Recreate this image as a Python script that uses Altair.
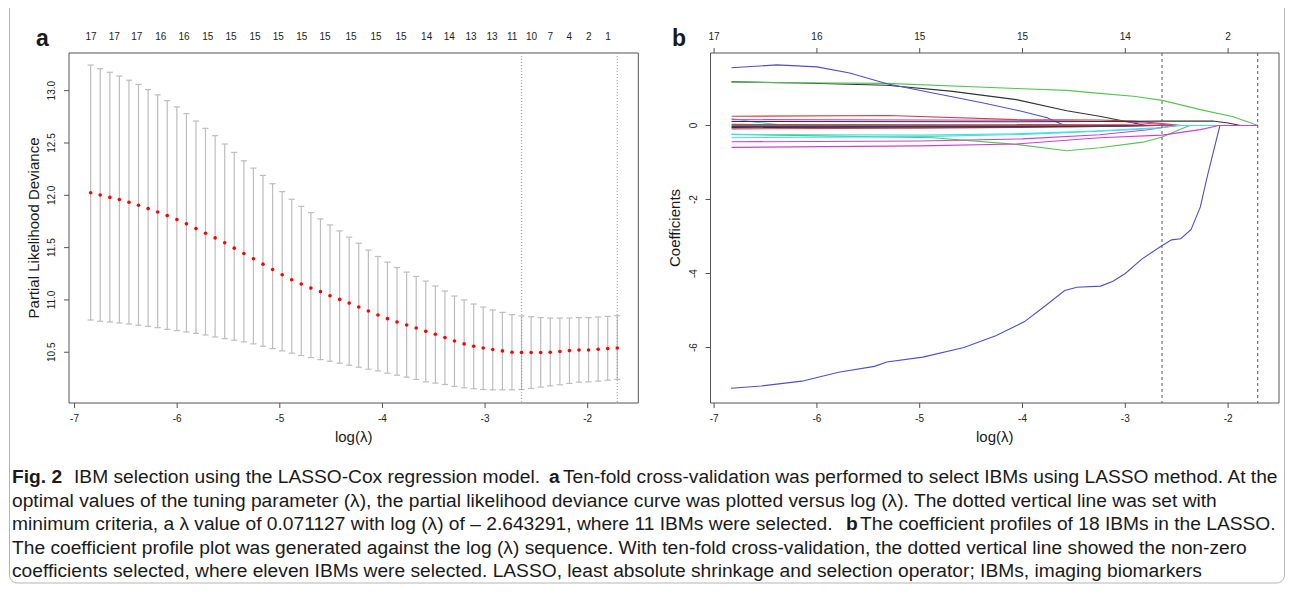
import altair as alt
import pandas as pd

FONT = "Liberation Sans"

# ---------------- Panel a: ten-fold CV curve ----------------
log_lambda = [-6.843, -6.750, -6.656, -6.563, -6.470, -6.377, -6.283, -6.190, -6.097, -6.003,
              -5.910, -5.817, -5.724, -5.630, -5.537, -5.444, -5.350, -5.257, -5.164, -5.070,
              -4.977, -4.884, -4.791, -4.697, -4.604, -4.511, -4.417, -4.324, -4.231, -4.137,
              -4.044, -3.951, -3.858, -3.764, -3.671, -3.578, -3.484, -3.391, -3.298, -3.204,
              -3.111, -3.018, -2.925, -2.831, -2.738, -2.645, -2.551, -2.458, -2.365, -2.271,
              -2.178, -2.085, -1.992, -1.898, -1.805, -1.712]
cv_mean = [12.025, 12.003, 11.980, 11.959, 11.933, 11.905, 11.873, 11.841, 11.806, 11.768,
           11.727, 11.682, 11.638, 11.593, 11.546, 11.495, 11.444, 11.393, 11.342, 11.291,
           11.241, 11.193, 11.152, 11.113, 11.079, 11.040, 11.005, 10.970, 10.932, 10.894,
           10.856, 10.821, 10.789, 10.761, 10.732, 10.700, 10.672, 10.640, 10.608, 10.580,
           10.557, 10.541, 10.526, 10.513, 10.500, 10.497, 10.497, 10.497, 10.500, 10.507,
           10.516, 10.522, 10.522, 10.529, 10.535, 10.541]
cv_upper = [13.245, 13.210, 13.176, 13.140, 13.100, 13.060, 13.010, 12.960, 12.905, 12.845,
            12.780, 12.710, 12.640, 12.570, 12.490, 12.410, 12.330, 12.260, 12.190, 12.111,
            12.035, 11.962, 11.895, 11.835, 11.774, 11.717, 11.660, 11.600, 11.542, 11.476,
            11.415, 11.361, 11.310, 11.266, 11.225, 11.180, 11.133, 11.085, 11.037, 11.000,
            10.961, 10.932, 10.904, 10.881, 10.859, 10.847, 10.840, 10.831, 10.827, 10.827,
            10.827, 10.831, 10.831, 10.837, 10.843, 10.850]
cv_lower = [10.808, 10.796, 10.789, 10.780, 10.770, 10.758, 10.748, 10.735, 10.719, 10.707,
            10.694, 10.681, 10.665, 10.646, 10.630, 10.615, 10.599, 10.580, 10.557, 10.535,
            10.513, 10.491, 10.468, 10.449, 10.430, 10.414, 10.395, 10.376, 10.357, 10.338,
            10.322, 10.300, 10.281, 10.262, 10.240, 10.217, 10.205, 10.192, 10.173, 10.160,
            10.151, 10.144, 10.141, 10.141, 10.141, 10.144, 10.154, 10.167, 10.179, 10.189,
            10.202, 10.214, 10.217, 10.224, 10.233, 10.240]
log_lambda_min = -2.643
log_lambda_1se = -1.712
top_a_pos = [-6.839, -6.612, -6.394, -6.160, -5.933, -5.702, -5.475, -5.241, -5.014, -4.786,
             -4.559, -4.306, -4.063, -3.819, -3.569, -3.348, -3.137, -2.932, -2.737, -2.548,
             -2.364, -2.179, -1.990, -1.802]
top_a_lab = ["17", "17", "17", "16", "16", "15", "15", "15", "15", "15", "15", "15", "15", "15",
             "14", "14", "13", "13", "11", "10", "7", "4", "2", "1"]
x_ticks = [-7, -6, -5, -4, -3, -2]
x_tick_labels = ["-7", "-6", "-5", "-4", "-3", "-2"]
ya_ticks = [10.5, 11.0, 11.5, 12.0, 12.5, 13.0]
ya_tick_labels = ["10.5", "11.0", "11.5", "12.0", "12.5", "13.0"]

# ---------------- Panel b: coefficient paths ----------------
top_b_pos = [-7, -6, -5, -4, -3, -2]
top_b_lab = ["17", "16", "15", "15", "14", "2"]
yb_ticks = [-6, -4, -2, 0]
yb_tick_labels = ["-6", "-4", "-2", "0"]

black_top_x = [-6.83, -6.16, -5.32, -4.70, -4.06, -3.57, -3.25, -2.92, -2.80, -1.71]
black_top_c = [1.18, 1.15, 1.09, 0.93, 0.70, 0.40, 0.25, 0.07, 0.0, 0.0]
red_top_x = [-6.83, -5.30, -4.06, -3.25, -2.92, -2.64, -2.45, -1.71]
red_top_c = [0.25, 0.27, 0.16, 0.15, 0.12, 0.05, 0.0, 0.0]
green_top_x = [-6.83, -5.32, -4.06, -3.57, -3.25, -2.92, -2.64, -2.27, -1.95, -1.71]
green_top_c = [1.17, 1.14, 1.00, 0.95, 0.87, 0.79, 0.68, 0.43, 0.235, 0.0]
blue_top_x = [-6.83, -6.60, -6.39, -6.00, -5.68, -5.32, -4.87, -4.38, -4.02, -3.76, -3.63, -3.57, -1.71]
blue_top_c = [1.56, 1.60, 1.64, 1.585, 1.42, 1.13, 0.88, 0.61, 0.39, 0.21, 0.05, 0.0, 0.0]
cyan_top_x = [-6.83, -6.60, -6.35, -5.00, -2.80, -1.71]
cyan_top_c = [0.19, 0.09, 0.02, -0.01, 0.0, 0.0]
magenta_top_x = [-6.83, -4.00, -3.00, -2.60, -2.50, -1.71]
magenta_top_c = [0.16, 0.14, 0.10, 0.02, 0.0, 0.0]
gray_zero_x = [-6.83, -1.71]
gray_zero_c = [0.0, 0.0]
black_mid_x = [-6.83, -4.00, -3.25, -2.63, -2.15, -2.00, -1.88, -1.71]
black_mid_c = [0.11, 0.10, 0.11, 0.12, 0.12, 0.07, 0.0, 0.0]
red_low_x = [-6.83, -5.00, -3.50, -2.70, -1.71]
red_low_c = [-0.09, -0.07, -0.04, 0.0, 0.0]
green_bot_x = [-6.83, -4.87, -4.06, -3.57, -3.25, -2.83, -2.64, -2.47, -2.37, -1.71]
green_bot_c = [-0.24, -0.33, -0.51, -0.68, -0.60, -0.45, -0.31, -0.11, 0.0, 0.0]
blue_mid_x = [-6.83, -3.00, -2.70, -1.71]
blue_mid_c = [-0.03, -0.02, 0.0, 0.0]
cyan_a_x = [-6.83, -5.00, -4.00, -3.30, -2.70, -2.45, -1.71]
cyan_a_c = [-0.24, -0.26, -0.22, -0.15, -0.06, 0.0, 0.0]
magenta_b_x = [-6.83, -5.00, -4.00, -3.25, -2.80, -2.50, -1.71]
magenta_b_c = [-0.44, -0.42, -0.36, -0.25, -0.12, 0.0, 0.0]
black_low_x = [-6.83, -4.00, -2.90, -1.71]
black_low_c = [-0.05, -0.04, 0.0, 0.0]
red_zero_x = [-6.83, -3.00, -2.60, -1.71]
red_zero_c = [0.03, 0.02, 0.0, 0.0]
blue_bot_x = [-6.835, -6.54, -6.146, -5.79, -5.44, -5.32, -4.97, -4.57, -4.26, -3.98, -3.79, -3.59,
              -3.47, -3.24, -3.12, -3.00, -2.84, -2.645, -2.55, -2.46, -2.36, -2.27, -2.21, -2.08, -1.71]
blue_bot_c = [-7.10, -7.04, -6.91, -6.67, -6.51, -6.39, -6.26, -6.00, -5.68, -5.30, -4.90, -4.46,
              -4.37, -4.34, -4.21, -4.00, -3.61, -3.25, -3.09, -3.06, -2.81, -2.20, -1.46, 0.0, 0.0]
cyan_b_x = [-6.83, -5.00, -4.00, -3.30, -2.70, -2.50, -1.71]
cyan_b_c = [-0.33, -0.30, -0.24, -0.16, -0.08, 0.0, 0.0]
magenta_a_x = [-6.83, -5.00, -4.06, -3.25, -2.64, -2.27, -2.09, -1.71]
magenta_a_c = [-0.59, -0.55, -0.50, -0.33, -0.26, -0.11, 0.0, 0.0]

BLACK, RED, GREEN, BLUE, CYAN, MAGENTA = "#333333", "#cc4444", "#55c455", "#4f4fc9", "#3fe0e6", "#d040d0"
series = [
    ("black_top", BLACK, black_top_x, black_top_c),
    ("red_top", RED, red_top_x, red_top_c),
    ("green_top", GREEN, green_top_x, green_top_c),
    ("blue_top", BLUE, blue_top_x, blue_top_c),
    ("cyan_top", CYAN, cyan_top_x, cyan_top_c),
    ("magenta_top", MAGENTA, magenta_top_x, magenta_top_c),
    ("gray_zero", "#777777", gray_zero_x, gray_zero_c),
    ("black_mid", BLACK, black_mid_x, black_mid_c),
    ("red_low", RED, red_low_x, red_low_c),
    ("green_bot", GREEN, green_bot_x, green_bot_c),
    ("blue_mid", "#3a3aa8", blue_mid_x, blue_mid_c),
    ("cyan_a", CYAN, cyan_a_x, cyan_a_c),
    ("magenta_b", MAGENTA, magenta_b_x, magenta_b_c),
    ("black_low", BLACK, black_low_x, black_low_c),
    ("red_zero", RED, red_zero_x, red_zero_c),
    ("blue_bot", BLUE, blue_bot_x, blue_bot_c),
    ("cyan_b", CYAN, cyan_b_x, cyan_b_c),
    ("magenta_a", MAGENTA, magenta_a_x, magenta_a_c),
]

# ---------------- Caption text ----------------
cap_fig = "Fig. 2"
cap_1a = "IBM selection using the LASSO-Cox regression model."
cap_1b = "Ten-fold cross-validation was performed to select IBMs using LASSO method. At the"
cap_2 = ("optimal values of the tuning parameter (λ), the partial likelihood deviance curve was plotted "
         "versus log (λ). The dotted vertical line was set with")
cap_3a = "minimum criteria, a λ value of 0.071127 with log (λ) of – 2.643291, where 11 IBMs were selected."
cap_3b = "The coefficient profiles of 18 IBMs in the LASSO."
cap_4 = ("The coefficient profile plot was generated against the log (λ) sequence. With ten-fold "
         "cross-validation, the dotted vertical line showed the non-zero")
cap_5 = ("coefficients selected, where eleven IBMs were selected. LASSO, least absolute shrinkage "
         "and selection operator; IBMs, imaging biomarkers")

# ---------------- Layout ----------------
W, H = 1278, 576
A_LEFT, A_RIGHT = 61, 630.3
B_LEFT, B_RIGHT = 702.5, 1271
P_TOP, P_BOTTOM = 45, 395
FRAME = "#555555"
TXT = "#1a1a1a"
CAP_SIZE = 19.2
CAP_Y = [469, 492.5, 516, 539.5, 563]

xa = alt.Scale(domain=[-7.054, -1.507], range=[A_LEFT, A_RIGHT], nice=False, zero=False)
ya = alt.Scale(domain=[10.015, 13.36], range=[P_BOTTOM, P_TOP], nice=False, zero=False)
xb = alt.Scale(domain=[-7.035, -1.505], range=[B_LEFT, B_RIGHT], nice=False, zero=False)
yb = alt.Scale(domain=[-7.5, 1.96], range=[P_BOTTOM, P_TOP], nice=False, zero=False)


def text_at(txt, x, y, size=CAP_SIZE, bold=False, angle=0, align="left"):
    return alt.Chart(alt.Data(values=[{}])).mark_text(
        text=txt, font=FONT, fontSize=size, fontWeight="bold" if bold else "normal",
        color=TXT, align=align, baseline="middle", angle=angle
    ).encode(x=alt.value(x), y=alt.value(y))


def frame(x0, x1):
    return alt.Chart(alt.Data(values=[{}])).mark_rect(
        fill="white", fillOpacity=0, stroke=FRAME, strokeWidth=1
    ).encode(x=alt.value(x0), x2=alt.value(x1), y=alt.value(P_TOP), y2=alt.value(P_BOTTOM))


def bottom_axis(xs, left, right):
    df = pd.DataFrame({"t": x_ticks, "l": x_tick_labels})
    ticks = alt.Chart(df).mark_rule(color=FRAME, strokeWidth=1).encode(
        x=alt.X("t:Q", scale=xs, axis=None), y=alt.value(P_BOTTOM), y2=alt.value(P_BOTTOM + 5))
    labs = alt.Chart(df).mark_text(font=FONT, fontSize=10, color="#222", baseline="middle").encode(
        x=alt.X("t:Q", scale=xs, axis=None), y=alt.value(P_BOTTOM + 16), text="l:N")
    title = text_at("log(λ)", (left + right) / 2, P_BOTTOM + 34, size=15, align="center")
    return [ticks, labs, title]


def left_axis(ys, left, values, labels, title_txt):
    df = pd.DataFrame({"t": values, "l": labels})
    ticks = alt.Chart(df).mark_rule(color=FRAME, strokeWidth=1).encode(
        y=alt.Y("t:Q", scale=ys, axis=None), x=alt.value(left - 5), x2=alt.value(left))
    labs = alt.Chart(df).mark_text(font=FONT, fontSize=10, color="#222", baseline="middle",
                                   align="center", angle=270).encode(
        y=alt.Y("t:Q", scale=ys, axis=None), x=alt.value(left - 17), text="l:N")
    title = text_at(title_txt, left - 35.5, (P_TOP + P_BOTTOM) / 2, size=15, angle=270,
                    align="center")
    return [ticks, labs, title]


# ---------------- Panel a layers ----------------
dfa = pd.DataFrame({"x": log_lambda, "m": cv_mean, "up": cv_upper, "lo": cv_lower})
base_a = alt.Chart(dfa)
bars_a = base_a.mark_rule(color="#bdbdbd", strokeWidth=1.2).encode(
    x=alt.X("x:Q", scale=xa, axis=None), y=alt.Y("lo:Q", scale=ya, axis=None), y2="up:Q")
caps_a = base_a.transform_fold(["up", "lo"], as_=["which", "val"]).transform_calculate(
    xl="datum.x - 0.03", xr="datum.x + 0.03"
).mark_rule(color="#bdbdbd", strokeWidth=1.2).encode(
    x=alt.X("xl:Q", scale=xa, axis=None), x2="xr:Q", y=alt.Y("val:Q", scale=ya, axis=None))
pts_a = base_a.mark_circle(color="#ff0000", size=13, opacity=1).encode(
    x=alt.X("x:Q", scale=xa, axis=None), y=alt.Y("m:Q", scale=ya, axis=None))
vl_a = alt.Chart(pd.DataFrame({"v": [log_lambda_min, log_lambda_1se]})).mark_rule(
    color="#9a9a9a", strokeDash=[1, 2], strokeWidth=1
).encode(x=alt.X("v:Q", scale=xa, axis=None), y=alt.value(P_TOP), y2=alt.value(P_BOTTOM))
top_a = alt.Chart(pd.DataFrame({"p": top_a_pos, "l": top_a_lab})).mark_text(
    font=FONT, fontSize=10, color="#222", baseline="middle"
).encode(x=alt.X("p:Q", scale=xa, axis=None), y=alt.value(29), text="l:N")
panel_a = alt.layer(
    bars_a, caps_a, vl_a, pts_a, top_a,
    *bottom_axis(xa, A_LEFT, A_RIGHT),
    *left_axis(ya, A_LEFT, ya_ticks, ya_tick_labels, "Partial Likelihood Deviance"),
)

# ---------------- Panel b layers ----------------
rows = []
for name, col, xs, cs in series:
    for i, (xv, cv) in enumerate(zip(xs, cs)):
        rows.append({"s": name, "col": col, "x": xv, "c": cv, "o": i})
dfb = pd.DataFrame(rows)
lines_b = alt.Chart(dfb).mark_line(strokeWidth=1.1).encode(
    x=alt.X("x:Q", scale=xb, axis=None),
    y=alt.Y("c:Q", scale=yb, axis=None),
    color=alt.Color("col:N", scale=None),
    detail="s:N",
    order="o:Q",
)
vl_b = alt.Chart(pd.DataFrame({"v": [log_lambda_min, log_lambda_1se]})).mark_rule(
    color="#555555", strokeDash=[3, 3], strokeWidth=1
).encode(x=alt.X("v:Q", scale=xb, axis=None), y=alt.value(P_TOP), y2=alt.value(P_BOTTOM))
ticks_b = alt.Chart(pd.DataFrame({"p": top_b_pos})).mark_rule(color=FRAME, strokeWidth=1).encode(
    x=alt.X("p:Q", scale=xb, axis=None), y=alt.value(P_TOP - 5), y2=alt.value(P_TOP))
top_b = alt.Chart(pd.DataFrame({"p": top_b_pos, "l": top_b_lab})).mark_text(
    font=FONT, fontSize=10, color="#222", baseline="middle"
).encode(x=alt.X("p:Q", scale=xb, axis=None), y=alt.value(29), text="l:N")
panel_b = alt.layer(
    lines_b, vl_b, ticks_b, top_b,
    *bottom_axis(xb, B_LEFT, B_RIGHT),
    *left_axis(yb, B_LEFT, yb_ticks, yb_tick_labels, "Coefficients"),
)

# ---------------- Decorations & caption ----------------
border = alt.Chart(alt.Data(values=[{}])).mark_rect(
    fill="white", fillOpacity=0, stroke="#b5b5b5", strokeWidth=1, cornerRadius=8
).encode(x=alt.value(1.5), x2=alt.value(W - 1.5), y=alt.value(-12), y2=alt.value(H - 1))

caption = [
    text_at(cap_fig, 4, CAP_Y[0], bold=True),
    text_at(cap_1a, 66, CAP_Y[0]),
    text_at("a", 541, CAP_Y[0], bold=True),
    text_at(cap_1b, 555, CAP_Y[0]),
    text_at(cap_2, 4, CAP_Y[1]),
    text_at(cap_3a, 4, CAP_Y[2]),
    text_at("b", 838, CAP_Y[2], bold=True),
    text_at(cap_3b, 852, CAP_Y[2]),
    text_at(cap_4, 4, CAP_Y[3]),
    text_at(cap_5, 4, CAP_Y[4]),
]

labels = [text_at("a", 28, 31, size=23, bold=True), text_at("b", 664, 31, size=23, bold=True)]

chart = alt.layer(
    border, frame(A_LEFT, A_RIGHT), frame(B_LEFT, B_RIGHT), panel_a, panel_b, *labels, *caption
).resolve_scale(x="independent", y="independent").properties(
    width=W, height=H, padding=0, autosize=alt.AutoSizeParams(type="none")
).configure_view(strokeOpacity=0)

chart.save("out.html", embed_options={"renderer": "svg", "actions": False})
